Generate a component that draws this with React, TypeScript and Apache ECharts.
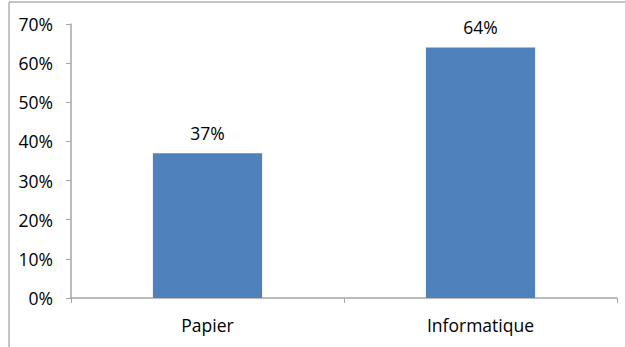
import React, { useEffect, useRef } from "react";
import * as echarts from "echarts";

const categories = ["Papier", "Informatique"];
const values = [37, 64];
const yTicks = [0, 10, 20, 30, 40, 50, 60, 70];

const FONT = "'Open Sans', 'Noto Sans', sans-serif";

export default function App() {
  const ref = useRef<HTMLDivElement>(null);

  useEffect(() => {
    if (!ref.current) return;
    const chart = echarts.init(ref.current, null, { renderer: "svg" });
    chart.setOption({
      animation: false,
      backgroundColor: "#ffffff",
      grid: { left: 71, right: 8, top: 24, bottom: 49, containLabel: false },
      graphic: [
        {
          type: "rect",
          shape: { x: 9, y: 2, width: 800, height: 600 },
          style: { fill: "none", stroke: "#8c8c8c", lineWidth: 1 },
          silent: true,
        },
      ],
      xAxis: {
        type: "category",
        data: categories,
        axisLine: { lineStyle: { color: "#a6a6a6", width: 1.5 } },
        axisTick: { show: true, length: 5, lineStyle: { color: "#a6a6a6" } },
        axisLabel: { color: "#000", fontFamily: FONT, fontSize: 17.5, margin: 18 },
      },
      yAxis: {
        type: "value",
        min: yTicks[0],
        max: yTicks[yTicks.length - 1],
        interval: 10,
        splitLine: { show: false },
        axisLine: { show: true, lineStyle: { color: "#a6a6a6", width: 1.5 } },
        axisTick: { show: true, length: 5, lineStyle: { color: "#a6a6a6" } },
        axisLabel: {
          color: "#000",
          fontFamily: FONT,
          fontSize: 17.5,
          margin: 18,
          formatter: (v: number) => `${v}%`,
        },
      },
      series: [
        {
          type: "bar",
          data: values,
          barWidth: "40%",
          itemStyle: { color: "#4f81bd" },
          label: {
            show: true,
            position: "top",
            distance: 11,
            color: "#000",
            fontFamily: FONT,
            fontSize: 17.5,
            formatter: (p: any) => `${p.value}%`,
          },
        },
      ],
    });
    return () => chart.dispose();
  }, []);

  return (
    <div
      ref={ref}
      style={{ position: "absolute", left: 0, top: 0, width: 625, height: 347 }}
    />
  );
}
